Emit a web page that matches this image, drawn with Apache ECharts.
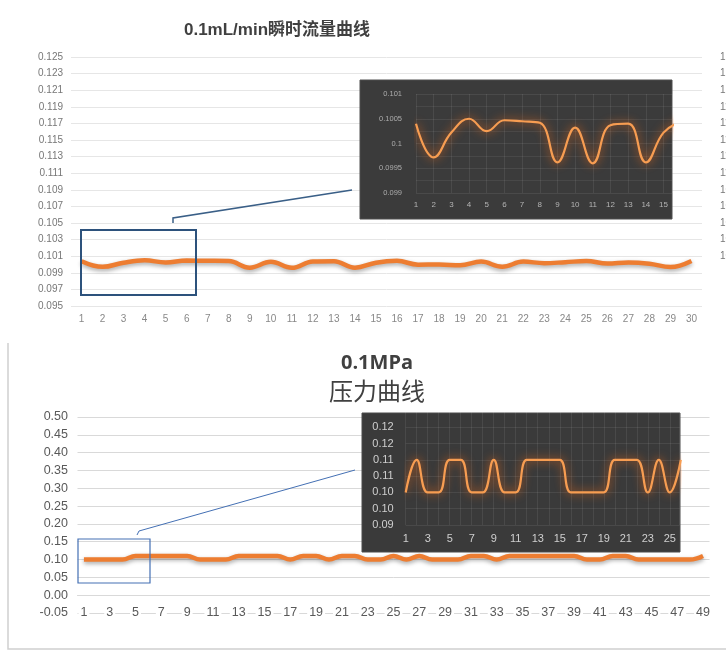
<!DOCTYPE html>
<html>
<head>
<meta charset="utf-8">
<script src="https://cdn.jsdelivr.net/npm/echarts@6/dist/echarts.min.js"></script>
<style>
  html, body { margin: 0; padding: 0; background: #fff; }
  #chart { width: 726px; height: 659px; }
</style>
</head>
<body>
<div id="chart"></div>
<script>
// flow (mL/min), 30 samples; the inset zooms on the first 16 of them
const flowDays = [1, 2, 3, 4, 5, 6, 7, 8, 9, 10, 11, 12, 13, 14, 15, 16, 17, 18, 19, 20, 21, 22, 23, 24, 25, 26, 27, 28, 29, 30];
const flowValues = [0.10040, 0.09972, 0.10022, 0.10050, 0.10025, 0.10047, 0.10045, 0.10042, 0.09962, 0.10032,
                    0.09960, 0.10037, 0.10040, 0.09962, 0.10022, 0.10044, 0.09998, 0.10000, 0.09990, 0.10035,
                    0.09972, 0.10035, 0.10016, 0.10028, 0.10042, 0.10012, 0.10025, 0.10010, 0.09970, 0.10043];
const flowZoomCount = 16;

// pressure (MPa), 49 samples, and the 26-sample zoomed view
const pressureDays = [1, 2, 3, 4, 5, 6, 7, 8, 9, 10, 11, 12, 13, 14, 15, 16, 17, 18, 19, 20, 21, 22, 23, 24, 25,
                      26, 27, 28, 29, 30, 31, 32, 33, 34, 35, 36, 37, 38, 39, 40, 41, 42, 43, 44, 45, 46, 47, 48, 49];
const pressureValues = [0.10, 0.10, 0.10, 0.10, 0.11, 0.11, 0.11, 0.11, 0.11, 0.10, 0.10, 0.10, 0.11, 0.11, 0.11, 0.11, 0.10,
                        0.11, 0.11, 0.10, 0.11, 0.11, 0.10, 0.10, 0.11, 0.10, 0.11, 0.10, 0.10, 0.10, 0.11, 0.11, 0.10,
                        0.11, 0.11, 0.11, 0.11, 0.11, 0.11, 0.10, 0.10, 0.11, 0.11, 0.10, 0.10, 0.10, 0.10, 0.10, 0.11];
const pressureZoomX = [1, 2, 3, 4, 5, 6, 7, 8, 9, 10, 11, 12, 13, 14, 15, 16, 17, 18, 19, 20, 21, 22, 23, 24, 25, 26];
const pressureZoomValues = [0.10, 0.11, 0.10, 0.10, 0.11, 0.11, 0.10, 0.10, 0.11, 0.10, 0.10, 0.11, 0.11,
                            0.11, 0.11, 0.10, 0.10, 0.10, 0.10, 0.11, 0.11, 0.11, 0.10, 0.11, 0.10, 0.11];

const flowTitle = '0.1mL/min瞬时流量曲线';
const pressureTitle = '0.1MPa';
const pressureSubtitle = '压力曲线';

const SANS = '"Liberation Sans", "Noto Sans CJK SC", sans-serif';
const ORANGE = '#ed7d31';
const mainLine = { color: ORANGE, width: 4.5, shadowColor: 'rgba(0,0,0,0.35)', shadowBlur: 4, shadowOffsetY: 2 };
const glowLine = { color: '#f79d52', width: 2.2, shadowColor: 'rgba(255,110,20,0.9)', shadowBlur: 10 };
const darkGrid = { lineStyle: { color: 'rgba(255,255,255,0.08)', width: 1 } };
const intLabel = (v) => (Number.isInteger(v) ? String(v) : '');

const chart = echarts.init(document.getElementById('chart'), null, { renderer: 'canvas' });

chart.setOption({
    animation: false,
    backgroundColor: '#fff',
    textStyle: { fontFamily: SANS },
    grid: [
        { left: 71, top: 57, width: 631, height: 249, outerBoundsMode: 'none' },       // flow
        { left: 416, top: 94, width: 256, height: 99, outerBoundsMode: 'none' },       // flow zoom
        { left: 77.5, top: 417, width: 632, height: 196, outerBoundsMode: 'none' },    // pressure
        { left: 405.7, top: 411, width: 274, height: 114, outerBoundsMode: 'none' },   // pressure zoom
    ],
    xAxis: [
        {
            type: 'category', gridIndex: 0, data: flowDays, boundaryGap: true,
            axisLine: { show: false }, axisTick: { show: false },
            axisLabel: { color: '#888', fontSize: 10, margin: 8, interval: 0 },
        },
        {
            type: 'value', gridIndex: 1, min: 1, max: 15.48, interval: 1, z: 3,
            axisLine: { show: false }, axisTick: { show: false },
            splitLine: darkGrid,
            axisLabel: { color: '#b4b4b4', fontSize: 8, margin: 8, formatter: intLabel, showMaxLabel: false },
        },
        {
            type: 'category', gridIndex: 2, data: pressureDays, boundaryGap: true,
            axisLine: { show: true, lineStyle: { color: '#d9d9d9', width: 1 } }, axisTick: { show: false },
            axisLabel: {
                color: '#595959', fontSize: 12.5, margin: 0, interval: 1, verticalAlign: 'middle',
                backgroundColor: '#fff', padding: [0, 2],
            },
        },
        {
            type: 'value', gridIndex: 3, min: 1, max: 25.9, interval: 2, z: 3,
            axisLine: { show: false }, axisTick: { show: false },
            splitLine: darkGrid,
            minorTick: { show: false, splitNumber: 2 },
            minorSplitLine: { show: true, lineStyle: { color: 'rgba(255,255,255,0.08)' } },
            axisLabel: { color: '#cfcfcf', fontSize: 11, margin: 8, formatter: intLabel, showMaxLabel: false },
        },
    ],
    yAxis: [
        {
            type: 'value', gridIndex: 0, min: 0.095, max: 0.125, interval: 0.002,
            axisLine: { show: false }, axisTick: { show: false },
            splitLine: { lineStyle: { color: '#e6e6e6' } },
            axisLabel: { color: '#777', fontSize: 10, margin: 8, formatter: (v) => v.toFixed(3) },
        },
        {
            // secondary scale on the right, clipped by the picture edge
            type: 'value', gridIndex: 0, position: 'right', min: 0.095, max: 0.125, interval: 0.002,
            axisLine: { show: false }, axisTick: { show: false }, splitLine: { show: false },
            axisLabel: { color: '#777', fontSize: 10, margin: 18, formatter: (v) => (v > 0.1009 ? (v * 100).toFixed(1) : '') },
        },
        {
            type: 'value', gridIndex: 1, min: 0.099, max: 0.101, interval: 0.0005, z: 3,
            axisLine: { show: false }, axisTick: { show: false },
            splitLine: darkGrid,
            minorTick: { show: false, splitNumber: 2 },
            minorSplitLine: { show: true, lineStyle: { color: 'rgba(255,255,255,0.07)' } },
            axisLabel: { color: '#adadad', fontSize: 7.5, margin: 14, formatter: (v) => String(+v.toFixed(4)) },
        },
        {
            type: 'value', gridIndex: 2, min: -0.05, max: 0.5, interval: 0.05,
            axisLine: { show: false }, axisTick: { show: false },
            splitLine: { lineStyle: { color: '#d9d9d9' } },
            axisLabel: { color: '#595959', fontSize: 12.5, margin: 9.5, formatter: (v) => v.toFixed(2) },
        },
        {
            type: 'value', gridIndex: 3, min: 0.09, max: 0.125, interval: 0.005, z: 3,
            axisLine: { show: false }, axisTick: { show: false },
            splitLine: darkGrid,
            axisLabel: { color: '#cfcfcf', fontSize: 11, margin: 12, showMaxLabel: false,
                formatter: (v) => (Math.round(v * 100) / 100).toFixed(2) },
        },
    ],
    series: [
        {
            name: 'flow', type: 'line', xAxisIndex: 0, yAxisIndex: 0, data: flowValues,
            smooth: 0.4, showSymbol: false, lineStyle: mainLine, z: 2,
        },
        {
            name: 'flow zoom', type: 'line', xAxisIndex: 1, yAxisIndex: 2,
            data: flowValues.slice(0, flowZoomCount).map((v, i) => [flowDays[i], v]),
            smooth: 0.45, showSymbol: false, lineStyle: glowLine, z: 5,
        },
        {
            name: 'pressure', type: 'line', xAxisIndex: 2, yAxisIndex: 3, data: pressureValues,
            smooth: 0.4, showSymbol: false, lineStyle: mainLine, z: 2,
        },
        {
            name: 'pressure zoom', type: 'line', xAxisIndex: 3, yAxisIndex: 4,
            data: pressureZoomValues.map((v, i) => [pressureZoomX[i], v]),
            smooth: 0.45, showSymbol: false, lineStyle: glowLine, z: 5,
        },
    ],
    graphic: [
        // titles
        { type: 'text', z: 6, style: { text: flowTitle, x: 277, y: 30, textAlign: 'center', textVerticalAlign: 'middle',
            font: 'bold 17px ' + SANS, fill: '#404040' } },
        { type: 'text', z: 6, style: { text: pressureTitle, x: 377, y: 363, textAlign: 'center', textVerticalAlign: 'middle',
            font: 'bold 20px "Open Sans", "Liberation Sans", sans-serif', fill: '#404040' } },
        { type: 'text', z: 6, style: { text: pressureSubtitle, x: 377, y: 391, textAlign: 'center', textVerticalAlign: 'middle',
            font: '24px "Noto Sans CJK SC", sans-serif', fill: '#404040' } },
        // frame round the pressure chart
        { type: 'polyline', z: 1, shape: { points: [[8, 343], [8, 649], [726, 649]] },
            style: { stroke: '#d0d0d0', lineWidth: 1.5, fill: null } },
        // dark inset panels
        { type: 'rect', z: 1, shape: { x: 360, y: 80, width: 312, height: 139 },
            style: { fill: '#3b3b3b', stroke: '#4e4e4e', lineWidth: 1 } },
        { type: 'rect', z: 1, shape: { x: 362, y: 413, width: 318, height: 139 },
            style: { fill: '#3a3a3a', stroke: '#4a4a4a', lineWidth: 1 } },
        // zoom boxes + leader lines
        { type: 'rect', z: 6, shape: { x: 81, y: 230, width: 115, height: 65 },
            style: { fill: null, stroke: '#2d527c', lineWidth: 2 } },
        { type: 'polyline', z: 6, shape: { points: [[173, 223], [173, 218], [352, 190]] },
            style: { stroke: '#3a5f87', lineWidth: 1.5, fill: null } },
        { type: 'rect', z: 6, shape: { x: 78, y: 539, width: 72, height: 44 },
            style: { fill: null, stroke: '#4470b4', lineWidth: 1.2 } },
        { type: 'polyline', z: 6, shape: { points: [[137, 535], [139, 531], [355, 470]] },
            style: { stroke: '#4470b4', lineWidth: 1, fill: null } },
    ],
});
</script>
</body>
</html>
